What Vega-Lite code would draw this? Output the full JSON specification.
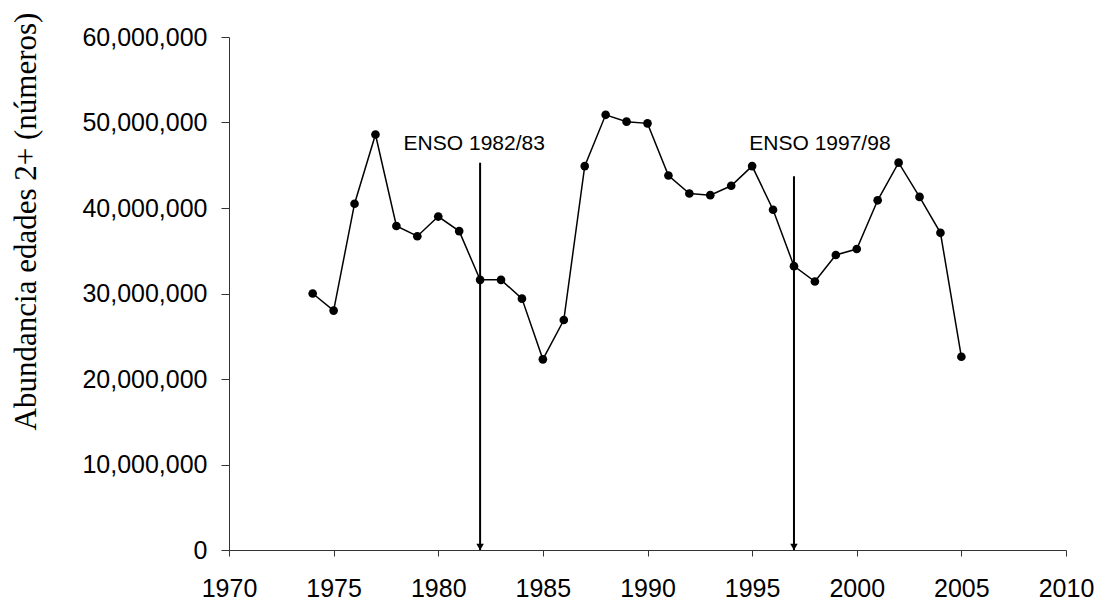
{
  "$schema": "https://vega.github.io/schema/vega-lite/v6.json",
  "width": 837,
  "height": 513,
  "autosize": {"type": "none"},
  "padding": {"left": 229, "top": 37, "right": 35, "bottom": 52},
  "background": "white",
  "config": {
    "view": {"stroke": null},
    "axis": {
      "grid": false,
      "labelFont": "Liberation Sans",
      "labelFontSize": 25,
      "labelColor": "#000000",
      "labelFlush": false,
      "labelOverlap": false,
      "domainColor": "#333333",
      "tickColor": "#333333",
      "domainWidth": 1,
      "tickWidth": 1
    }
  },
  "datasets": {
    "series": [
      {"year": 1974, "abundance": 30000000},
      {"year": 1975, "abundance": 28000000},
      {"year": 1976, "abundance": 40500000},
      {"year": 1977, "abundance": 48600000},
      {"year": 1978, "abundance": 37900000},
      {"year": 1979, "abundance": 36700000},
      {"year": 1980, "abundance": 39000000},
      {"year": 1981, "abundance": 37300000},
      {"year": 1982, "abundance": 31600000},
      {"year": 1983, "abundance": 31600000},
      {"year": 1984, "abundance": 29400000},
      {"year": 1985, "abundance": 22300000},
      {"year": 1986, "abundance": 26900000},
      {"year": 1987, "abundance": 44900000},
      {"year": 1988, "abundance": 50900000},
      {"year": 1989, "abundance": 50100000},
      {"year": 1990, "abundance": 49900000},
      {"year": 1991, "abundance": 43800000},
      {"year": 1992, "abundance": 41700000},
      {"year": 1993, "abundance": 41500000},
      {"year": 1994, "abundance": 42600000},
      {"year": 1995, "abundance": 44900000},
      {"year": 1996, "abundance": 39800000},
      {"year": 1997, "abundance": 33200000},
      {"year": 1998, "abundance": 31400000},
      {"year": 1999, "abundance": 34500000},
      {"year": 2000, "abundance": 35200000},
      {"year": 2001, "abundance": 40900000},
      {"year": 2002, "abundance": 45300000},
      {"year": 2003, "abundance": 41300000},
      {"year": 2004, "abundance": 37100000},
      {"year": 2005, "abundance": 22600000}
    ],
    "arrows": [
      {"year": 1982, "top": 45300000, "bottom": 0},
      {"year": 1997, "top": 43700000, "bottom": 0}
    ],
    "labels": [
      {"year": 1981.72, "value": 46800000, "label": "ENSO 1982/83"},
      {"year": 1998.24, "value": 46800000, "label": "ENSO 1997/98"}
    ]
  },
  "layer": [
    {
      "data": {"name": "series"},
      "mark": {
        "type": "line",
        "color": "#000000",
        "strokeWidth": 1.5,
        "point": {"filled": true, "color": "#000000", "size": 75, "opacity": 1}
      },
      "encoding": {
        "x": {
          "field": "year",
          "type": "quantitative",
          "scale": {"domain": [1970, 2010], "nice": false, "zero": false},
          "axis": {
            "title": null,
            "values": [1970, 1975, 1980, 1985, 1990, 1995, 2000, 2005, 2010],
            "format": "d",
            "tickSize": 6,
            "labelPadding": 20
          }
        },
        "y": {
          "field": "abundance",
          "type": "quantitative",
          "scale": {"domain": [0, 60000000], "nice": false},
          "axis": {
            "title": "Abundancia edades 2+ (números)",
            "titleFont": "Liberation Serif",
            "titleFontSize": 31,
            "titleFontWeight": "normal",
            "titleColor": "#000000",
            "titleAngle": -90,
            "titleAlign": "center",
            "titleBaseline": "alphabetic",
            "titleX": -194,
            "titleY": 184,
            "values": [0, 10000000, 20000000, 30000000, 40000000, 50000000, 60000000],
            "format": ",d",
            "tickSize": 8,
            "labelPadding": 14
          }
        }
      }
    },
    {
      "data": {"name": "arrows"},
      "mark": {"type": "rule", "color": "#000000", "strokeWidth": 2},
      "encoding": {
        "x": {"field": "year", "type": "quantitative"},
        "y": {"field": "top", "type": "quantitative"},
        "y2": {"field": "bottom"}
      }
    },
    {
      "data": {"name": "arrows"},
      "mark": {"type": "point", "shape": "triangle-down", "filled": true, "color": "#000000", "size": 56, "opacity": 1, "yOffset": -3},
      "encoding": {
        "x": {"field": "year", "type": "quantitative"},
        "y": {"field": "bottom", "type": "quantitative"}
      }
    },
    {
      "data": {"name": "labels"},
      "mark": {"type": "text", "font": "Liberation Sans", "fontSize": 21, "color": "#000000", "align": "center", "baseline": "alphabetic"},
      "encoding": {
        "x": {"field": "year", "type": "quantitative"},
        "y": {"field": "value", "type": "quantitative"},
        "text": {"field": "label"}
      }
    }
  ]
}
